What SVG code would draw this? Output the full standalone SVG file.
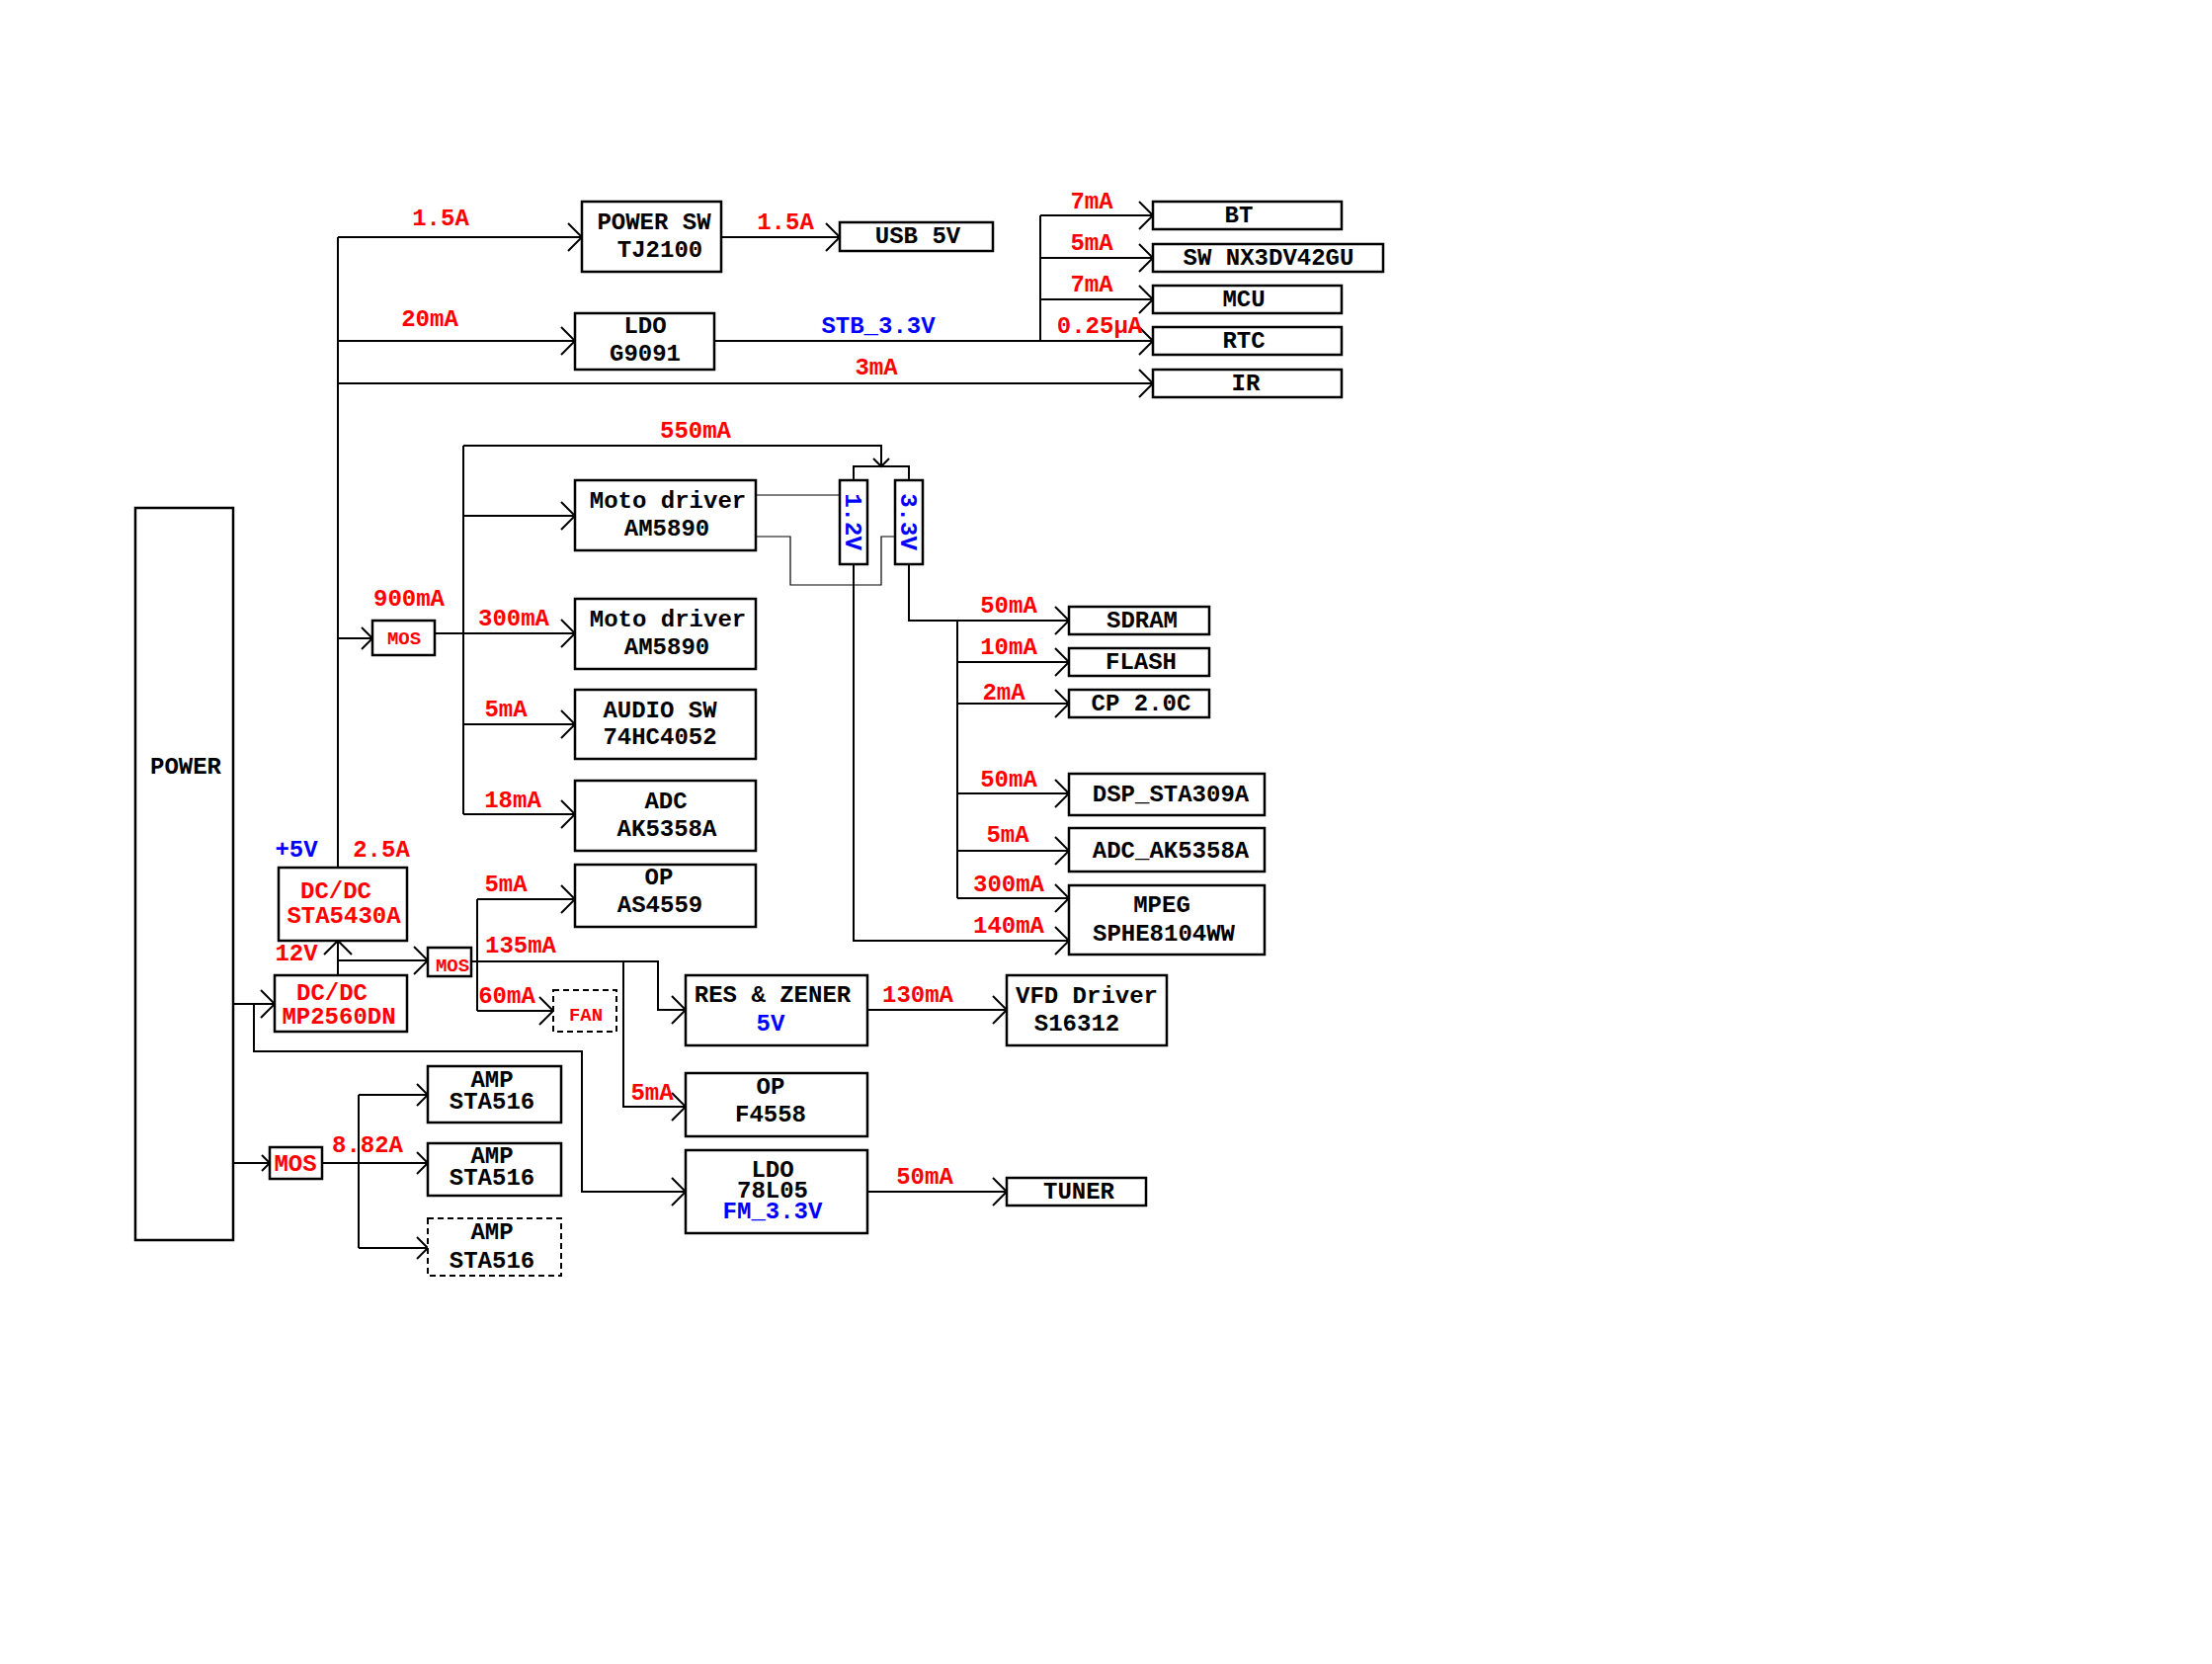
<svg xmlns="http://www.w3.org/2000/svg" width="2239" height="1684" viewBox="0 0 2239 1684">
<style>
.bx{fill:#fff;stroke:#000;stroke-width:2.5}
.dash{fill:#fff;stroke:#000;stroke-width:2;stroke-dasharray:6 4}
.ln{fill:none;stroke:#000;stroke-width:2}
.thin{fill:none;stroke:#000;stroke-width:1.2}
text{font-family:"Liberation Mono","Courier New",monospace;font-weight:bold;font-size:24px;text-anchor:middle}
.k{fill:#000}
.r{fill:#FF0000}
.b{fill:#0000FF}
.s{font-size:19px}
</style>
<defs>
<marker id="ah" markerUnits="userSpaceOnUse" markerWidth="20" markerHeight="32" viewBox="-16 -16 20 32" refX="0" refY="0" orient="auto" overflow="visible"><path d="M-14,-14 L0,0 L-14,14" fill="none" stroke="#000" stroke-width="2"/></marker>
<marker id="am" markerUnits="userSpaceOnUse" markerWidth="16" markerHeight="26" viewBox="-13 -13 16 26" refX="0" refY="0" orient="auto" overflow="visible"><path d="M-11,-11 L0,0 L-11,11" fill="none" stroke="#000" stroke-width="2"/></marker>
<marker id="as" markerUnits="userSpaceOnUse" markerWidth="12" markerHeight="20" viewBox="-10 -10 12 20" refX="0" refY="0" orient="auto" overflow="visible"><path d="M-8,-8 L0,0 L-8,8" fill="none" stroke="#000" stroke-width="2"/></marker>
</defs>
<rect width="2239" height="1684" fill="#fff"/>

<g id="connectors">
<path class="ln" d="M342,240 V878"/>
<path class="ln" d="M342,240 H589" marker-end="url(#ah)"/>
<path class="ln" d="M730,240 H850" marker-end="url(#ah)"/>
<path class="ln" d="M342,345 H582" marker-end="url(#ah)"/>
<path class="ln" d="M723,345 H1167" marker-end="url(#ah)"/>
<path class="ln" d="M1053,218 V345"/>
<path class="ln" d="M1053,218 H1167" marker-end="url(#ah)"/>
<path class="ln" d="M1053,261 H1167" marker-end="url(#ah)"/>
<path class="ln" d="M1053,303 H1167" marker-end="url(#ah)"/>
<path class="ln" d="M342,388 H1167" marker-end="url(#ah)"/>
<path class="ln" d="M342,646 H377" marker-end="url(#am)"/>
<path class="ln" d="M440,641 H582" marker-end="url(#ah)"/>
<path class="ln" d="M469,451 V824"/>
<path class="ln" d="M469,451 H892 V472" marker-end="url(#as)"/>
<path class="ln" d="M864,486 V472 H920 V486"/>
<path class="ln" d="M469,522 H582" marker-end="url(#ah)"/>
<path class="ln" d="M469,733 H582" marker-end="url(#ah)"/>
<path class="ln" d="M469,824 H582" marker-end="url(#ah)"/>
<path class="thin" d="M765,501 H850"/>
<path class="thin" d="M765,543 H800 V592 H892 V543 H906"/>
<path class="ln" d="M864,571 V952 H1082" marker-end="url(#ah)"/>
<path class="ln" d="M920,571 V628 H1082" marker-end="url(#ah)"/>
<path class="ln" d="M969,628 V909"/>
<path class="ln" d="M969,670 H1082" marker-end="url(#ah)"/>
<path class="ln" d="M969,712 H1082" marker-end="url(#ah)"/>
<path class="ln" d="M969,803 H1082" marker-end="url(#ah)"/>
<path class="ln" d="M969,861 H1082" marker-end="url(#ah)"/>
<path class="ln" d="M969,909 H1082" marker-end="url(#ah)"/>
<path class="ln" d="M342,987 V952" marker-end="url(#ah)"/>
<path class="ln" d="M342,972 H433" marker-end="url(#ah)"/>
<path class="ln" d="M477,973 H666 V1022 H694" marker-end="url(#ah)"/>
<path class="ln" d="M483,910 V1023"/>
<path class="ln" d="M483,910 H582" marker-end="url(#ah)"/>
<path class="ln" d="M483,1023 H560" marker-end="url(#ah)"/>
<path class="ln" d="M631,973 V1120 H694" marker-end="url(#ah)"/>
<path class="ln" d="M236,1016 H278" marker-end="url(#ah)"/>
<path class="ln" d="M257,1016 V1064 H589 V1206 H694" marker-end="url(#ah)"/>
<path class="ln" d="M878,1022 H1019" marker-end="url(#ah)"/>
<path class="ln" d="M878,1206 H1019" marker-end="url(#ah)"/>
<path class="ln" d="M236,1177 H273" marker-end="url(#as)"/>
<path class="ln" d="M326,1177 H433" marker-end="url(#am)"/>
<path class="ln" d="M363,1108 V1263"/>
<path class="ln" d="M363,1108 H433" marker-end="url(#am)"/>
<path class="ln" d="M363,1263 H433" marker-end="url(#am)"/>
</g>

<g id="labels">
<text class="r" x="446" y="228">1.5A</text>
<text class="r" x="795" y="232">1.5A</text>
<text class="r" x="435" y="330">20mA</text>
<text class="b" x="889" y="337">STB_3.3V</text>
<text class="r" x="887" y="379">3mA</text>
<text class="r" x="704" y="443">550mA</text>
<text class="r" x="1105" y="211">7mA</text>
<text class="r" x="1105" y="253">5mA</text>
<text class="r" x="1105" y="295">7mA</text>
<text class="r" x="1113" y="337">0.25μA</text>
<text class="r" x="414" y="613">900mA</text>
<text class="r" x="520" y="633">300mA</text>
<text class="r" x="512" y="725">5mA</text>
<text class="r" x="519" y="817">18mA</text>
<text class="r" x="512" y="902">5mA</text>
<text class="r" x="527" y="964">135mA</text>
<text class="r" x="513" y="1015">60mA</text>
<text class="b" x="300" y="867">+5V</text>
<text class="r" x="386" y="867">2.5A</text>
<text class="r" x="300" y="972">12V</text>
<text class="b" x="209" y="1022">36V</text>
<text class="b" x="205" y="1184">36V</text>
<text class="r" x="372" y="1166">8.82A</text>
<text class="r" x="660" y="1113">5mA</text>
<text class="r" x="929" y="1014">130mA</text>
<text class="r" x="936" y="1198">50mA</text>
<text class="r" x="1021" y="620">50mA</text>
<text class="r" x="1021" y="662">10mA</text>
<text class="r" x="1016" y="708">2mA</text>
<text class="r" x="1021" y="796">50mA</text>
<text class="r" x="1020" y="852">5mA</text>
<text class="r" x="1021" y="902">300mA</text>
<text class="r" x="1021" y="944">140mA</text>
</g>

<g id="power"><rect class="bx" x="137" y="514" width="99" height="741"/><text class="k" x="188" y="783">POWER</text></g>
<g id="powersw"><rect class="bx" x="589" y="204" width="141" height="71"/><text class="k" x="662" y="232">POWER SW</text><text class="k" x="668" y="260">TJ2100</text></g>
<g id="usb5v"><rect class="bx" x="850" y="225" width="155" height="29"/><text class="k" x="929" y="246">USB 5V</text></g>
<g id="ldo9091"><rect class="bx" x="582" y="317" width="141" height="57"/><text class="k" x="653" y="337">LDO</text><text class="k" x="653" y="365">G9091</text></g>
<g id="bt"><rect class="bx" x="1167" y="204" width="191" height="28"/><text class="k" x="1254" y="225">BT</text></g>
<g id="sw"><rect class="bx" x="1167" y="247" width="233" height="28"/><text class="k" x="1284" y="268">SW NX3DV42GU</text></g>
<g id="mcu"><rect class="bx" x="1167" y="289" width="191" height="28"/><text class="k" x="1259" y="310">MCU</text></g>
<g id="rtc"><rect class="bx" x="1167" y="331" width="191" height="28"/><text class="k" x="1259" y="352">RTC</text></g>
<g id="ir"><rect class="bx" x="1167" y="374" width="191" height="28"/><text class="k" x="1261" y="395">IR</text></g>
<g id="moto1"><rect class="bx" x="582" y="486" width="183" height="71"/><text class="k" x="676" y="514">Moto driver</text><text class="k" x="675" y="542">AM5890</text></g>
<g id="moto2"><rect class="bx" x="582" y="606" width="183" height="71"/><text class="k" x="676" y="634">Moto driver</text><text class="k" x="675" y="662">AM5890</text></g>
<g id="audiosw"><rect class="bx" x="582" y="698" width="183" height="70"/><text class="k" x="668" y="726">AUDIO SW</text><text class="k" x="668" y="753">74HC4052</text></g>
<g id="adc"><rect class="bx" x="582" y="790" width="183" height="71"/><text class="k" x="674" y="818">ADC</text><text class="k" x="675" y="846">AK5358A</text></g>
<g id="opas4559"><rect class="bx" x="582" y="875" width="183" height="63"/><text class="k" x="667" y="895">OP</text><text class="k" x="668" y="923">AS4559</text></g>
<g id="mos1"><rect class="bx" x="377" y="628" width="63" height="35"/><text class="r s" x="409" y="652">MOS</text></g>
<g id="v12"><rect class="bx" x="850" y="486" width="28" height="85"/><text class="b" transform="translate(864,528) rotate(90)" x="0" y="8">1.2V</text></g>
<g id="v33"><rect class="bx" x="906" y="486" width="28" height="85"/><text class="b" transform="translate(920,528) rotate(90)" x="0" y="8">3.3V</text></g>
<g id="sdram"><rect class="bx" x="1082" y="614" width="142" height="28"/><text class="k" x="1156" y="635">SDRAM</text></g>
<g id="flash"><rect class="bx" x="1082" y="656" width="142" height="28"/><text class="k" x="1155" y="677">FLASH</text></g>
<g id="cp"><rect class="bx" x="1082" y="698" width="142" height="28"/><text class="k" x="1155" y="719">CP 2.0C</text></g>
<g id="dsp"><rect class="bx" x="1082" y="783" width="198" height="42"/><text class="k" x="1185" y="811">DSP_STA309A</text></g>
<g id="adcak"><rect class="bx" x="1082" y="838" width="198" height="44"/><text class="k" x="1185" y="868">ADC_AK5358A</text></g>
<g id="mpeg"><rect class="bx" x="1082" y="896" width="198" height="70"/><text class="k" x="1176" y="923">MPEG</text><text class="k" x="1178" y="952">SPHE8104WW</text></g>
<g id="dcdc5430"><rect class="bx" x="282" y="878" width="130" height="74"/><text class="r" x="340" y="909">DC/DC</text><text class="r" x="348" y="934">STA5430A</text></g>
<g id="dcdc2560"><rect class="bx" x="278" y="987" width="134" height="57"/><text class="r" x="336" y="1012">DC/DC</text><text class="r" x="343" y="1036">MP2560DN</text></g>
<g id="mos2"><rect class="bx" x="433" y="959" width="44" height="29"/><text class="r s" x="458" y="983">MOS</text></g>
<g id="fan"><rect class="dash" x="560" y="1002" width="64" height="42"/><text class="r s" x="593" y="1033">FAN</text></g>
<g id="reszener"><rect class="bx" x="694" y="987" width="184" height="71"/><text class="k" x="782" y="1014">RES &amp; ZENER</text><text class="b" x="780" y="1043">5V</text></g>
<g id="vfd"><rect class="bx" x="1019" y="987" width="162" height="71"/><text class="k" x="1100" y="1015">VFD Driver</text><text class="k" x="1090" y="1043">S16312</text></g>
<g id="opf4558"><rect class="bx" x="694" y="1086" width="184" height="64"/><text class="k" x="780" y="1107">OP</text><text class="k" x="780" y="1135">F4558</text></g>
<g id="ldo7805"><rect class="bx" x="694" y="1164" width="184" height="84"/><text class="k" x="782" y="1191">LDO</text><text class="k" x="782" y="1212">78L05</text><text class="b" x="782" y="1233">FM_3.3V</text></g>
<g id="tuner"><rect class="bx" x="1019" y="1192" width="141" height="28"/><text class="k" x="1092" y="1213">TUNER</text></g>
<g id="mos3"><rect class="bx" x="273" y="1161" width="53" height="32"/><text class="r" x="299" y="1185">MOS</text></g>
<g id="amp1"><rect class="bx" x="433" y="1079" width="135" height="57"/><text class="k" x="498" y="1100">AMP</text><text class="k" x="498" y="1122">STA516</text></g>
<g id="amp2"><rect class="bx" x="433" y="1157" width="135" height="53"/><text class="k" x="498" y="1177">AMP</text><text class="k" x="498" y="1199">STA516</text></g>
<g id="amp3"><rect class="dash" x="433" y="1233" width="135" height="58"/><text class="k" x="498" y="1254">AMP</text><text class="k" x="498" y="1283">STA516</text></g>
</svg>
